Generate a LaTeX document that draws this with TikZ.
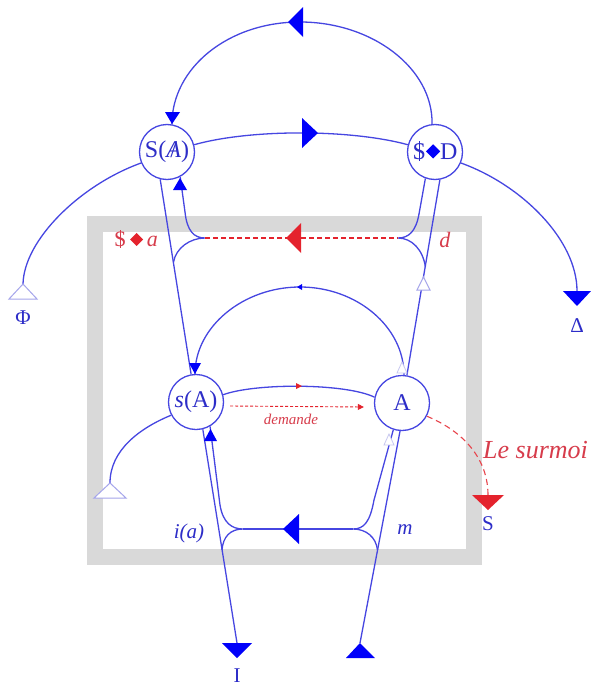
\documentclass[tikz,border=0pt]{standalone}
\usepackage{fontspec}
\setmainfont{Liberation Serif}
\usepackage{graphicx}
\usetikzlibrary{arrows.meta}
\definecolor{lb}{RGB}{70,70,225}
\definecolor{fb}{RGB}{0,0,250}
\definecolor{tb}{RGB}{45,45,200}
\definecolor{rr}{RGB}{228,35,45}
\definecolor{rt}{RGB}{215,60,75}
\definecolor{gb}{RGB}{217,217,217}
\definecolor{lav}{RGB}{165,165,235}
\definecolor{faint}{RGB}{200,200,240}
\newcommand{\bS}{\ooalign{S\cr\hidewidth\rule[-0.06em]{0.045em}{0.8em}\hidewidth\cr}}
\newcommand{\dmd}{\raisebox{0.03em}{\rotatebox{45}{\rule{0.42em}{0.42em}}}}
\newcommand{\bA}{\ooalign{\textit{A}\cr\hidewidth/\hidewidth\cr}}
\begin{document}
\begin{tikzpicture}[x=1pt,y=-1pt,
 circ/.style={circle,draw=lb,line width=1.3pt,minimum size=55pt,inner sep=0pt,text=tb,fill=white,font=\fontsize{24}{26}\selectfont},
 wire/.style={draw=lb,line width=1.3pt},
 lab/.style={text=tb,inner sep=0pt,font=\fontsize{21}{23}\selectfont},
 rlab/.style={text=rt,inner sep=0pt,font=\fontsize{22}{24}\selectfont},
 hollow/.style={draw=lav,fill=white,line width=1pt},
 faintarrow/.style={draw=faint,fill=white,line width=0.8pt},
 rdash/.style={draw=rr,dashed,dash pattern=on 5pt off 3pt,line width=1.1pt}]
\useasboundingbox (0,0) rectangle (590,688);
\fill[white] (0,0) rectangle (590,688);
% gray frame
\draw[gb,line width=16pt] (95,224) rectangle (474,557);
% nodes
\node[circ] (SA) at (167,152) {S(\bA)};
\node[circ] (SD) at (435,152) {\bS{\color{fb}\dmd}D};
\node[circ] (sA) at (196,402) {\textit{s}(A)};
\node[circ] (A) at (402,403) {A};
\coordinate (cL) at (205,238);
\coordinate (cR) at (398,238);
\coordinate (bL) at (243,529);
\coordinate (bR) at (353,529);
\coordinate (phiT) at (23,284);
\coordinate (delT) at (577,291);
\coordinate (iT) at (237,643);
\coordinate (mT) at (360,643);
\coordinate (suT) at (488,495);
\coordinate (sLT) at (110,483);
% top arc
\draw[wire] (SD.96) .. controls (433,68) and (372,22) .. (300,22) .. controls (228,22) and (172,68) .. (SA.80);
\fill[fb] (288,22) -- (303,7) -- (303,37) -- cycle;
\fill[fb] (172,124) -- (165,112) -- (180,112) -- cycle;
% middle arc
\draw[wire] (SA.15) .. controls (250,129) and (350,129) .. (SD.165);
\fill[fb] (318,133) -- (302,118) -- (302,148) -- cycle;
% Phi and Delta
\draw[wire] (SA.203) .. controls (80,185) and (24,240) .. (phiT);
\filldraw[hollow] (phiT) -- (9,299) -- (37,299) -- cycle;
\node[lab] (phi) at (23,318) {Φ};
\draw[wire] (SD.-23) .. controls (522,185) and (577,240) .. (delT);
\fill[fb] (563,291) -- (591,291) -- (577,306) -- cycle;
\node[lab] (del) at (577,326) {Δ};
% upper left
\draw[wire] (SA.256) -- (sA.100);
\draw[wire] (SA.298) -- (185,212) .. controls (187,231) and (194,238) .. (cL) .. controls (190,238) and (176,248) .. (173.5,262);
\fill[fb] (180,178) -- (173,190) -- (187,190) -- cycle;
% red dashed
\draw[rdash] (cL) -- (cR);
\fill[rr] (286,238) -- (301,223) -- (301,253) -- cycle;
% upper right
\draw[wire] (SD.250) -- (419,214) .. controls (416,231) and (409,238) .. (cR) .. controls (412,238) and (423,250) .. (425.4,267);
\draw[wire] (SD.280) -- (A.80);
\filldraw[hollow] (423.5,277) -- (417,290) -- (430,290) -- cycle;
% inner arc
\draw[wire] (A.86) .. controls (404,327) and (357,287) .. (300,287) .. controls (243,287) and (195,327) .. (sA.92);
\fill[fb] (195,374) -- (189,363) -- (201,363) -- cycle;
\fill[fb] (297,287) -- (302,284) -- (302,290) -- cycle;
\filldraw[faintarrow] (402,362) -- (397,373) -- (407,373) -- cycle;
% s(A) -> A
\draw[wire] (sA.15) .. controls (255,383) and (345,383) .. (A.168);
\fill[rr] (302,386) -- (296,383) -- (296,389) -- cycle;
\draw[draw=rr,dashed,dash pattern=on 3pt off 2pt,line width=0.9pt,-{Triangle[length=6pt,width=6pt]},rr] ([xshift=6pt,yshift=-4pt]sA.east) -- ([xshift=-10pt,yshift=-4pt]A.west);
\node[text=rt,inner sep=0pt,font=\fontsize{15}{17}\selectfont\itshape] (dem) at (291,419) {demande};
% left small arc
\draw[wire] (sA.208) .. controls (140,428) and (110,450) .. (sLT);
\filldraw[hollow] (sLT) -- (94,498) -- (126,498) -- cycle;
% lower left
\draw[wire] (sA.284) -- (iT);
\fill[fb] (222,643) -- (252,643) -- (237,658) -- cycle;
\node[lab] (I) at (237,676) {I};
\draw[wire] (sA.300) -- (220,505) .. controls (223,523) and (232,529) .. (bL) .. controls (230,529) and (223,537) .. (222,550);
\fill[fb] (210.5,429) -- (204,441) -- (217,441) -- cycle;
% horizontal bottom
\draw[wire] (bL) -- (bR);
\fill[fb] (283,529) -- (299,514) -- (299,544) -- cycle;
% lower right
\draw[wire] (A.266) -- (mT);
\fill[fb] (mT) -- (346,658) -- (375,658) -- cycle;
\draw[wire] (A.252) -- (374,500) .. controls (370,522) and (364,529) .. (bR) .. controls (366,529) and (376,537) .. (377.5,550);
\filldraw[faintarrow] (389,434) -- (384,445) -- (394,445) -- cycle;
% le surmoi
\draw[rdash,draw=rr!85!white,dash pattern=on 6pt off 4pt] (A.-28) .. controls (465,432) and (488,460) .. (suT);
\fill[rr] (472,495) -- (504,495) -- (488,510) -- cycle;
\node[lab] (S) at (488,524) {S};
\node[text=rt,inner sep=0pt,font=\fontsize{26}{28}\selectfont\itshape,anchor=west] (sur) at (483,450) {Le surmoi};
% labels
\node[rlab] (sa) at (136,240) {\bS\,{\color{rr}\dmd}\,\textit{a}};
\node[rlab] (d) at (445,240) {\textit{d}};
\node[lab] (ia) at (189,533) {\textit{i(a)}};
\node[lab] (m) at (405,530) {\textit{m}};
\end{tikzpicture}
\end{document}
